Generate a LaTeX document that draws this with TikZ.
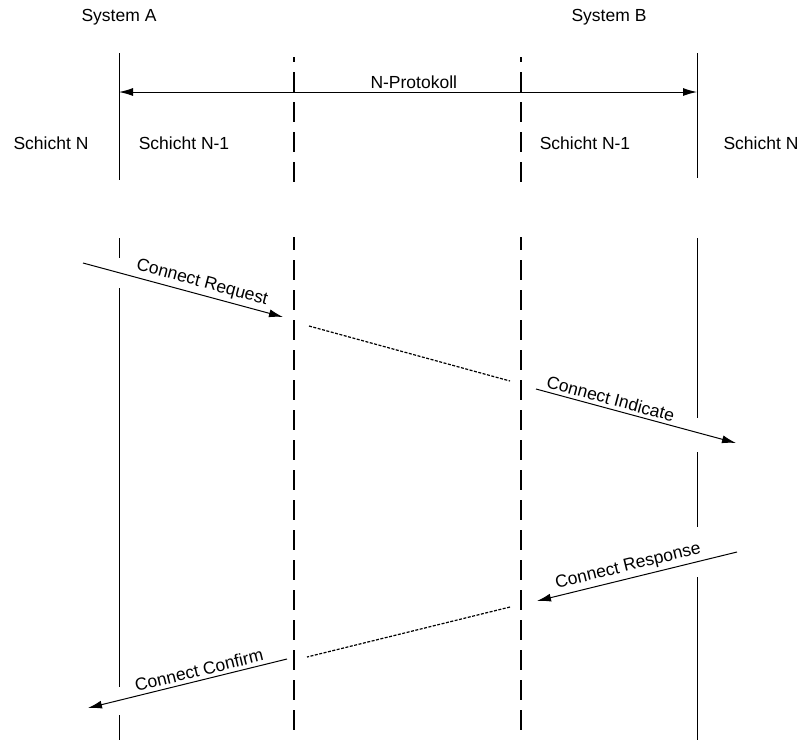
\documentclass[tikz,border=0pt]{standalone}
\usepackage{fontspec}
\setmainfont{Liberation Sans}
\usepackage{tikz}
\usetikzlibrary{arrows.meta}
\tikzset{>={Latex[width=8pt,length=14pt]}}
\tikzset{
  layer/.style={line width=1pt},
  service/.style={line width=1.8pt, dash pattern=on 20pt off 10pt},
  peer/.style={line width=1.2pt, dash pattern=on 3pt off 1.5pt},
  lbl/.style={font=\fontsize{17.5pt}{20pt}\selectfont}
}

\begin{document}
\begin{tikzpicture}[x=1pt, y=-1pt]
    \useasboundingbox (0,0) rectangle (803,740);
    \node[lbl] (SysA) at (119,17) {System A};
    \node[lbl] (SysB) at (609,17) {System B};
    \node[lbl] (NA) at (51,143) {Schicht N};
    \node[lbl] (N1A) at (184,143) {Schicht N-1};
    \node[lbl] (N1B) at (585,143) {Schicht N-1};
    \node[lbl] (NB) at (761,143) {Schicht N};
    \draw[layer] (119,53) -- (119,180);
    \draw[layer] (119,238) -- (119,258);
    \draw[layer] (119,288) -- (119,687);
    \draw[layer] (119,715) -- (119,740);
    \draw[layer] (697,53) -- (697,178);
    \draw[layer] (697,238) -- (697,418);
    \draw[layer] (697,452) -- (697,527);
    \draw[layer] (697,577) -- (697,740);
    \draw[service, dash phase=15pt] (294,57) -- (294,183);
    \draw[service, dash phase=7pt] (294,237) -- (294,740);
    \draw[service, dash phase=15pt] (521,57) -- (521,183);
    \draw[service, dash phase=7pt] (521,237) -- (521,740);
    \coordinate (protA) at (119,92);
    \coordinate (protB) at (697,92);
    \draw[layer, <->] (protA) -- node[lbl, pos=0.51, above] {N-Protokoll} (protB);
    \coordinate (reqA) at (83,263);
    \coordinate (reqB) at (283,317);
    \coordinate (ind1) at (309,326);
    \coordinate (ind2) at (510,381);
    \coordinate (indA) at (536,389);
    \coordinate (indB) at (736,443);
    \coordinate (resA) at (737,552);
    \coordinate (resB) at (537,601);
    \coordinate (con1) at (510,607);
    \coordinate (con2) at (307,657);
    \coordinate (conA) at (287,659);
    \coordinate (conB) at (88,708);
    \draw[layer, ->] (reqA) -- node[lbl, pos=0.58, above, sloped] {Connect Request} (reqB);
    \draw[peer] (ind1) -- (ind2);
    \draw[layer, ->] (indA) -- node[lbl, pos=0.36, above, sloped] {Connect Indicate} (indB);
    \draw[layer, ->] (resA) -- node[lbl, pos=0.53, above, sloped] {Connect Response} (resB);
    \draw[peer] (con1) -- (con2);
    \draw[layer, ->] (conA) -- node[lbl, pos=0.43, above, sloped] {Connect Confirm} (conB);
  \end{tikzpicture}
\end{document}
